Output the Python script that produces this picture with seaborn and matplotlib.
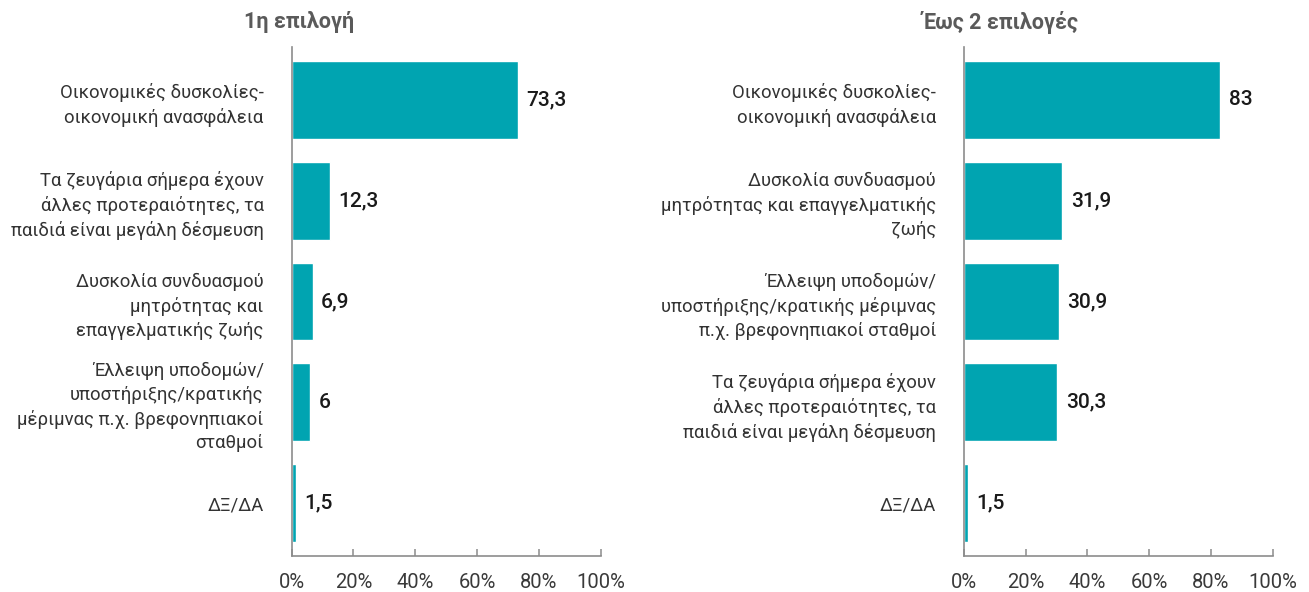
import matplotlib
matplotlib.use("Agg")
import matplotlib.pyplot as plt
import seaborn as sns
import pandas as pd
from matplotlib.ticker import FixedLocator, FuncFormatter

# Reasons, first choice
first_labels = [
    "Οικονομικές δυσκολίες-\nοικονομική ανασφάλεια",
    "Τα ζευγάρια σήμερα έχουν\nάλλες προτεραιότητες, τα\nπαιδιά είναι μεγάλη δέσμευση",
    "Δυσκολία συνδυασμού\nμητρότητας και\nεπαγγελματικής ζωής",
    "Έλλειψη υποδομών/\nυποστήριξης/κρατικής\nμέριμνας π.χ. βρεφονηπιακοί\nσταθμοί",
    "ΔΞ/ΔΑ",
]
first_values = [73.3, 12.3, 6.9, 6.0, 1.5]

# Reasons, up to two choices
second_labels = [
    "Οικονομικές δυσκολίες-\nοικονομική ανασφάλεια",
    "Δυσκολία συνδυασμού\nμητρότητας και επαγγελματικής\nζωής",
    "Έλλειψη υποδομών/\nυποστήριξης/κρατικής μέριμνας\nπ.χ. βρεφονηπιακοί σταθμοί",
    "Τα ζευγάρια σήμερα έχουν\nάλλες προτεραιότητες, τα\nπαιδιά είναι μεγάλη δέσμευση",
    "ΔΞ/ΔΑ",
]
second_values = [83.0, 31.9, 30.9, 30.3, 1.5]

panel_titles = ["1η επιλογή", "Έως 2 επιλογές"]
x_ticks = [0, 20, 40, 60, 80, 100]

BAR = "#00A4B1"
AXIS = "#8C8C8C"
TEXT = "#333333"
TITLE = "#5A5A5A"

sns.set_theme(style="white")
plt.rcParams["font.family"] = ["Roboto", "DejaVu Sans"]

fig = plt.figure(figsize=(13.09, 5.92), dpi=100)
ax_w = 309.2 / 1309
ax_b = 1 - 556 / 592
ax_h = (556 - 47) / 592
axes = [
    fig.add_axes([291.5 / 1309, ax_b, ax_w, ax_h]),
    fig.add_axes([963.7 / 1309, ax_b, ax_w, ax_h]),
]


def fmt_value(v):
    s = f"{v:.1f}".replace(".", ",")
    return s[:-2] if s.endswith(",0") else s


for ax, labels, values in zip(axes, [first_labels, second_labels],
                              [first_values, second_values]):
    df = pd.DataFrame({"label": labels, "value": values})
    sns.barplot(data=df, y="label", x="value", color=BAR, saturation=1,
                width=0.77, orient="h", ax=ax)
    ax.set_xlim(0, 100)
    ax.set_ylim(len(labels) - 0.475, -0.525)
    ax.set_xlabel("")
    ax.set_ylabel("")
    for spine in ["top", "right"]:
        ax.spines[spine].set_visible(False)
    for spine in ["left", "bottom"]:
        ax.spines[spine].set_color(AXIS)
        ax.spines[spine].set_linewidth(1.2)
    ax.xaxis.set_major_locator(FixedLocator(x_ticks))
    ax.xaxis.set_major_formatter(FuncFormatter(lambda v, p: f"{v:.0f}%"))
    ax.tick_params(axis="x", direction="in", length=5, width=1.1, color=AXIS,
                   labelsize=14.5, labelcolor="#3A3A3A", pad=12, bottom=True)
    ax.tick_params(axis="y", length=0, pad=20, labelsize=13.3, labelcolor=TEXT)
    for t in ax.get_yticklabels():
        t.set_horizontalalignment("right")
        t.set_multialignment("right")
        t.set_linespacing(1.4)
    for i, v in enumerate(values):
        ax.annotate(fmt_value(v), xy=(v, i), xytext=(6, 0),
                    textcoords="offset points", va="center", ha="left",
                    fontsize=15, fontweight="medium", color="#1A1A1A")

fig.text(299 / 1309, 1 - 22 / 592, panel_titles[0], ha="center", va="center",
         fontsize=15.5, fontweight="bold", color=TITLE)
fig.text(1001 / 1309, 1 - 22 / 592, panel_titles[1], ha="center", va="center",
         fontsize=15.5, fontweight="bold", color=TITLE)

fig.savefig("out.png", dpi=100, facecolor="white")
